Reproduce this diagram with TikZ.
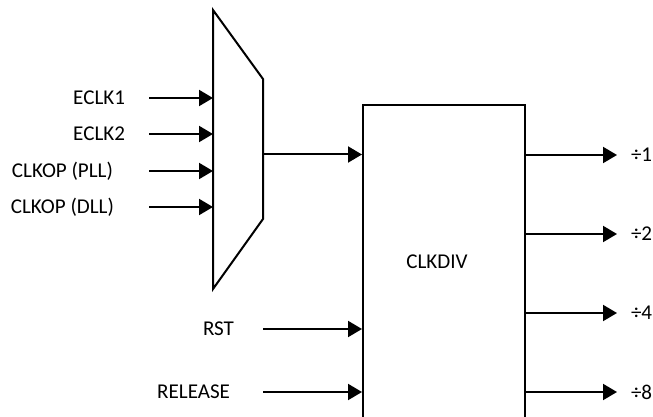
\documentclass[tikz,border=0pt]{standalone}
\usepackage{fontspec}
\setmainfont{Carlito}
\usetikzlibrary{arrows.meta, positioning}

\begin{document}
\begin{tikzpicture}[x=0.75pt, y=-0.75pt, line width=1.5pt,
  sig/.style={-{Triangle[length=10.5pt,width=12pt]}},
  lbl/.style={font=\fontsize{15.8}{18}\selectfont, inner sep=0pt},
]
  \useasboundingbox (0,0) rectangle (653,417);
  \clip (0,0) rectangle (653,417);
  % mux
  \coordinate (mt) at (213,10);
  \coordinate (mb) at (213,289);
  \coordinate (mrt) at (263,79);
  \coordinate (mrb) at (263,219);
  \draw (mt) -- (mrt) -- (mrb) -- (mb) -- cycle;
  % clock inputs
  \foreach \y/\nm/\txt/\xe in {98/eone/ECLK1/126, 134/etwo/ECLK2/126,
                               171/pll/{CLKOP (PLL)}/114, 207/dll/{CLKOP (DLL)}/115} {
    \node[lbl, anchor=east] (\nm) at (\xe,\y) {\txt};
    \coordinate (\nm src) at (149,\y);
    \coordinate (\nm in) at (213,\y);
    \draw[sig] (\nm src) -- (\nm in);
  }
  % divider block
  \node[draw, anchor=north west, minimum width=121.5pt, minimum height=270pt,
        inner sep=0pt] (div) at (362,104) {};
  \node[lbl] (divlbl) at (437,262) {CLKDIV};
  \coordinate (muxout) at (263,154.5);
  \coordinate (divclk) at (362,154.5);
  \draw[sig] (muxout) -- (divclk);
  % control inputs
  \node[lbl, anchor=east] (rst) at (235,329) {RST};
  \node[lbl, anchor=east] (rel) at (231,392) {RELEASE};
  \coordinate (rstsrc) at (263,329);
  \coordinate (relsrc) at (263,392);
  \coordinate (rstin) at (362,329);
  \coordinate (relin) at (362,392);
  \draw[sig] (rstsrc) -- (rstin);
  \draw[sig] (relsrc) -- (relin);
  % outputs
  \foreach \y/\nm/\d in {155/one/1, 234/two/2, 313/four/4, 392/eight/8} {
    \coordinate (\nm out) at (524,\y);
    \coordinate (\nm tip) at (617,\y);
    \draw[sig] (\nm out) -- (\nm tip);
    \node[lbl, anchor=west] (\nm lbl) at (630,\y) {÷\d};
  }
\end{tikzpicture}
\end{document}
